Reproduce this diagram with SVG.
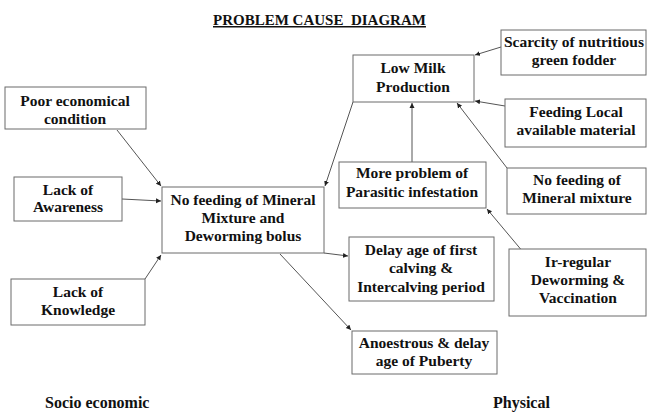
<svg xmlns="http://www.w3.org/2000/svg" width="649" height="414" viewBox="0 0 649 414" font-family="Liberation Serif, Times New Roman, serif">
<defs>
<style>
.box{fill:#fff;stroke:#6b6b6b;stroke-width:1}
.c{stroke:#555;stroke-width:1;fill:none;marker-end:url(#ah)}
</style>
<marker id="ah" markerUnits="userSpaceOnUse" markerWidth="6" markerHeight="6" refX="5" refY="3" orient="auto">
<path d="M0,0.5 L5,3 L0,5.5 z" fill="#222"/>
</marker>
</defs>
<rect width="649" height="414" fill="#fff"/>
<text x="213" y="25" font-family="Liberation Serif, Times New Roman, serif" font-weight="bold" font-size="15px" fill="#111" text-decoration="underline" style="white-space:pre">PROBLEM CAUSE  DIAGRAM</text>

<g id="connectors">
<line class="c" x1="117" y1="130" x2="161" y2="186"/>
<line class="c" x1="122" y1="199" x2="161" y2="201"/>
<line class="c" x1="145" y1="279" x2="161" y2="255"/>
<line class="c" x1="353" y1="102" x2="325" y2="186"/>
<line class="c" x1="412" y1="162" x2="412" y2="103"/>
<line class="c" x1="507" y1="168" x2="457" y2="103"/>
<line class="c" x1="501" y1="47" x2="475" y2="55"/>
<line class="c" x1="505" y1="106" x2="475" y2="101"/>
<line class="c" x1="324" y1="253" x2="348" y2="256"/>
<line class="c" x1="280" y1="254" x2="351" y2="330"/>
<line class="c" x1="534" y1="265" x2="487" y2="209"/>
</g>

<g font-family="Liberation Serif, Times New Roman, serif" font-weight="bold" font-size="15.5px" fill="#111" text-anchor="middle">
<g id="low-milk"><rect class="box" x="353" y="55" width="121" height="47"/>
<text x="413" y="73">Low Milk</text><text x="413" y="92">Production</text></g>

<g id="scarcity"><rect class="box" x="501" y="30" width="145" height="45"/>
<text x="574" y="47">Scarcity of nutritious</text><text x="574" y="65">green fodder</text></g>

<g id="feeding-local"><rect class="box" x="505" y="99" width="141" height="48"/>
<text x="576" y="117">Feeding Local</text><text x="576" y="135">available material</text></g>

<g id="poor-economical"><rect class="box" x="5" y="87" width="141" height="42"/>
<text x="75" y="106">Poor economical</text><text x="75" y="124">condition</text></g>

<g id="lack-awareness"><rect class="box" x="14" y="177" width="108" height="44"/>
<text x="68" y="195">Lack of</text><text x="68" y="212">Awareness</text></g>

<g id="lack-knowledge"><rect class="box" x="11" y="279" width="134" height="46"/>
<text x="78" y="297">Lack of</text><text x="78" y="315">Knowledge</text></g>

<g id="no-feeding-center"><rect class="box" x="162" y="187" width="162" height="66"/>
<text x="243" y="205">No feeding of Mineral</text><text x="243" y="223">Mixture and</text><text x="243" y="241">Deworming bolus</text></g>

<g id="more-problem"><rect class="box" x="339" y="162" width="147" height="46"/>
<text x="412" y="178">More problem of</text><text x="412" y="197">Parasitic infestation</text></g>

<g id="no-feeding-mineral"><rect class="box" x="507" y="168" width="139" height="46"/>
<text x="577" y="185">No feeding of</text><text x="577" y="203">Mineral mixture</text></g>

<g id="delay-age"><rect class="box" x="349" y="237" width="145" height="64"/>
<text x="421" y="255">Delay age of first</text><text x="421" y="273">calving &amp;</text><text x="421" y="292">Intercalving period</text></g>

<g id="irregular"><rect class="box" x="509" y="249" width="137" height="67"/>
<text x="578" y="267">Ir-regular</text><text x="578" y="285">Deworming &amp;</text><text x="578" y="303">Vaccination</text></g>

<g id="anoestrous"><rect class="box" x="352" y="331" width="145" height="43"/>
<text x="424" y="348">Anoestrous &amp; delay</text><text x="424" y="366">age of Puberty</text></g>
</g>

<text x="45" y="408" font-family="Liberation Serif, Times New Roman, serif" font-weight="bold" font-size="16px" fill="#111">Socio economic</text>
<text x="493" y="408" font-family="Liberation Serif, Times New Roman, serif" font-weight="bold" font-size="16px" fill="#111">Physical</text>
</svg>
